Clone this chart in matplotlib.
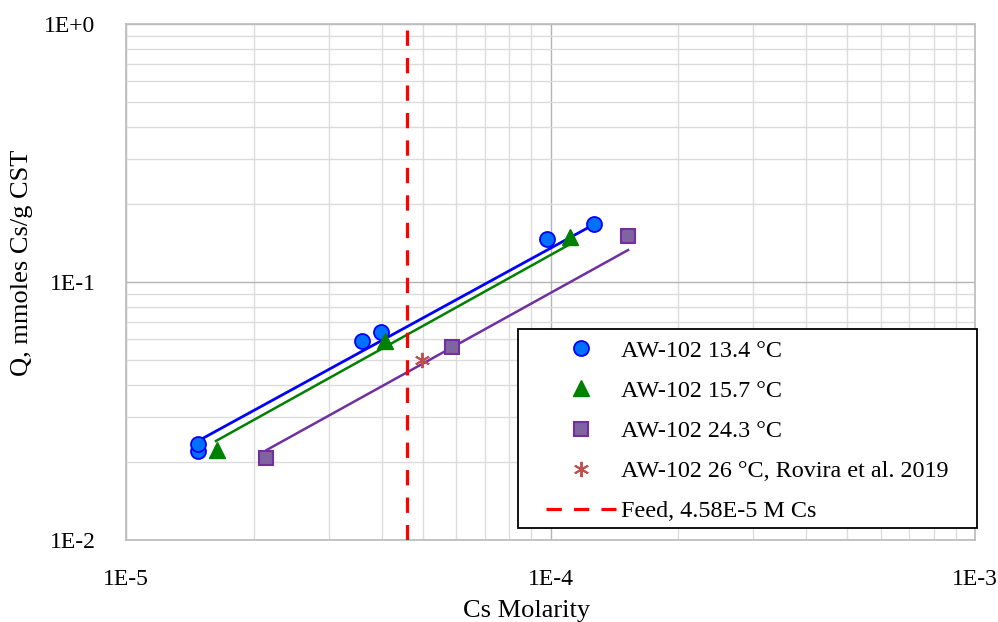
import numpy as np
import matplotlib
matplotlib.use("Agg")
import matplotlib.pyplot as plt
from matplotlib.patches import Rectangle

plt.rcParams['font.family'] = ['Liberation Serif', 'DejaVu Serif']

# Isotherm data: Cs molarity (M) vs Q (mmoles Cs/g CST)
x_134 = [1.48e-5, 1.48e-5, 3.59e-5, 3.99e-5, 9.8e-5, 1.266e-4]
q_134 = [0.0221, 0.0236, 0.0592, 0.064, 0.1468, 0.1678]

x_157 = [1.636e-5, 4.07e-5, 1.11e-4]
q_157 = [0.0223, 0.0592, 0.150]

x_243 = [2.14e-5, 5.87e-5, 1.52e-4]
q_243 = [0.0208, 0.0561, 0.1508]

x_rovira = [4.97e-5]
q_rovira = [0.0499]

# trendline end points (as drawn on the chart)
fit_x_134 = [1.477e-5, 1.259e-4]
fit_q_134 = [0.02419, 0.1663]
fit_x_157 = [1.629e-5, 1.125e-4]
fit_q_157 = [0.0242, 0.1417]
fit_x_243 = [2.145e-5, 1.523e-4]
fit_q_243 = [0.02233, 0.1330]

# feed concentration line (drawn top -> bottom)
feed_x = [4.58e-5, 4.58e-5]
feed_q = [0.95, 1e-2]

labels = ['AW-102 13.4 °C', 'AW-102 15.7 °C', 'AW-102 24.3 °C',
          'AW-102 26 °C, Rovira et al. 2019', 'Feed, 4.58E-5 M Cs']
x_ticks = [1e-5, 1e-4, 1e-3]
x_tick_labels = ['1E-5', '1E-4', '1E-3']
y_ticks = [1e-2, 1e-1, 1e0]
y_tick_labels = ['1E-2', '1E-1', '1E+0']


def make_plot():
    fig = plt.figure(figsize=(9.98, 6.22), dpi=100)
    ax = fig.add_axes([126 / 998, 1 - 540 / 622, 849 / 998, 516 / 622])
    ax.set_xscale('log')
    ax.set_yscale('log')
    ax.set_xlim(1e-5, 1e-3)
    ax.set_ylim(1e-2, 1e0)

    # grid like excel
    ax.grid(which='major', color='#b4b4b4', lw=1.0, zorder=0)
    ax.grid(which='minor', color='#dcdcdc', lw=1.0, zorder=0)
    ax.set_axisbelow(True)
    for s in ax.spines.values():
        s.set_color('#bfbfbf')
        s.set_linewidth(1.3)

    ax.set_xticks(x_ticks)
    ax.set_xticklabels(x_tick_labels)
    ax.set_yticks(y_ticks)
    ax.set_yticklabels(y_tick_labels)
    ax.tick_params(which='both', length=0, labelsize=17)
    ax.tick_params(axis='x', pad=21)
    ax.tick_params(axis='y', pad=22)

    # trendlines
    ax.plot(fit_x_134, fit_q_134, color='#0000ff', lw=2.0, zorder=2)
    ax.plot(fit_x_157, fit_q_157, color='#008000', lw=1.8, zorder=2)
    ax.plot(fit_x_243, fit_q_243, color='#7030a0', lw=1.8, zorder=2)

    # data points
    h1, = ax.plot(x_134, q_134, 'o', ms=10.8, mfc='#0070ff', mec='#0000ff', mew=1.3,
                  ls='none', zorder=3)
    h2, = ax.plot(x_157, q_157, '^', ms=11, mfc='#008000', mec='#008000', mew=1.0,
                  ls='none', zorder=3)
    h3, = ax.plot(x_243, q_243, 's', ms=10, mfc='#8064a2', mec='#7030a0', mew=1.5,
                  ls='none', zorder=3)
    h4, = ax.plot(x_rovira, q_rovira, marker=(6, 2, 0), ms=11, mec='#c0504d', mew=1.4,
                  ls='none', zorder=3)
    h5, = ax.plot(feed_x, feed_q, color='#ff0000', lw=2.3, ls=(0, (4.8, 3.8)), zorder=3)

    # legend box (excel style: wide left padding)
    frame = Rectangle((518 / 998, 1 - 528 / 622), 459 / 998, 199 / 622,
                      transform=fig.transFigure, facecolor='white', edgecolor='black',
                      lw=1.3, zorder=4, clip_on=False)
    ax.add_patch(frame)
    leg = ax.legend([h1, h2, h3, h4, h5], labels, frameon=False, fontsize=17.4,
                    handlelength=2.9, handletextpad=0.2, labelspacing=0.75,
                    loc='upper left', bbox_to_anchor=(546 / 998, 1 - 340 / 622),
                    bbox_transform=fig.transFigure, borderpad=0, borderaxespad=0)
    leg.set_zorder(5)

    fig.text(22 / 998, 1 - 263 / 622, 'Q, mmoles Cs/g CST', rotation=90,
             ha='center', va='center', fontsize=19)
    fig.text(527 / 998, 1 - 611 / 622, 'Cs Molarity', ha='center', va='center',
             fontsize=19)

    fig.savefig('out.png', dpi=100)


def main():
    make_plot()


if __name__ == "__main__":
    main()
